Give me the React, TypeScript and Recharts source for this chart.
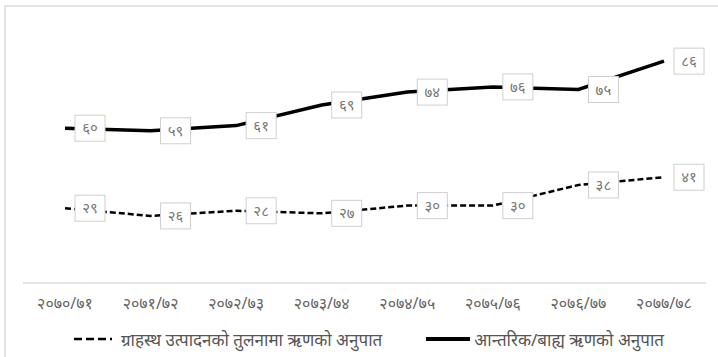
import { LineChart, Line, XAxis, YAxis, Legend, LabelList } from "recharts";

const YEARS = ["२०७०/७१", "२०७१/७२", "२०७२/७३", "२०७३/७४", "२०७४/७५", "२०७५/७६", "२०७६/७७", "२०७७/७८"];
const DEBT_TO_GDP = [29, 26, 28, 27, 30, 30, 38, 41];
const INTERNAL_EXTERNAL = [60, 59, 61, 69, 74, 76, 75, 86];

const GDP_NAME = "ग्राहस्थ उत्पादनको तुलनामा ऋणको अनुपात";
const RATIO_NAME = "आन्तरिक/बाह्य ऋणको अनुपात";

const DATA = YEARS.map((year, i) => ({
  year,
  gdp: DEBT_TO_GDP[i],
  ratio: INTERNAL_EXTERNAL[i],
}));

const FONT = "'Noto Sans', 'Noto Sans Devanagari', Lato, sans-serif";
const NEP_DIGITS = "०१२३४५६७८९";
const toNepali = (n: number | string) => String(n).replace(/[0-9]/g, (d) => NEP_DIGITS[Number(d)]);

// boxed value label sitting just right of each point
const BoxLabel = (props: any) => {
  const { x, y, value } = props;
  const left = x + 10;
  return (
    <g>
      <rect x={left} y={y - 13} width={30} height={26} fill="#fff" stroke="#cfcfcf" strokeWidth={1} />
      <text
        x={left + 15}
        y={y + 1}
        textAnchor="middle"
        dominantBaseline="middle"
        fontSize={15}
        fill="#777"
        fontFamily={FONT}
      >
        {toNepali(value)}
      </text>
    </g>
  );
};

const LegendContent = () => (
  <div
    style={{
      display: "flex",
      alignItems: "center",
      height: 30,
      marginTop: 9,
      fontFamily: FONT,
      fontSize: 17,
      color: "#555",
      paddingLeft: 50,
      whiteSpace: "nowrap",
    }}
  >
    <svg width={40} height={10} style={{ marginRight: 8 }}>
      <line x1={1} y1={5} x2={39} y2={5} stroke="#000" strokeWidth={2.5} strokeDasharray="8 4" />
    </svg>
    <span>{GDP_NAME}</span>
    <svg width={44} height={10} style={{ marginLeft: 44, marginRight: 4 }}>
      <line x1={0} y1={5} x2={44} y2={5} stroke="#000" strokeWidth={4} />
    </svg>
    <span>{RATIO_NAME}</span>
  </div>
);

export default function App() {
  return (
    <div style={{ position: "absolute", left: 0, top: 0, width: 718, height: 357, background: "#fff", overflow: "hidden" }}>
      <div
        style={{
          position: "absolute",
          left: 4,
          top: 5,
          width: 730,
          height: 370,
          borderLeft: "2px solid #e4e4e4",
          borderTop: "2px solid #e4e4e4",
        }}
      />
      <LineChart
        width={718}
        height={357}
        data={DATA}
        margin={{ top: 25, right: 12, left: 23, bottom: 12 }}
        style={{ position: "absolute", left: 0, top: 0 }}
      >
        <XAxis
          dataKey="year"
          padding={{ left: 42, right: 42 }}
          tickLine={false}
          axisLine={{ stroke: "#e6e6e6", strokeWidth: 2 }}
          tick={{ fontSize: 16, fill: "#666", fontFamily: FONT }}
          tickMargin={9}
          height={32}
          interval={0}
        />
        <YAxis hide domain={[0, 100]} />
        <Legend verticalAlign="bottom" height={30} content={<LegendContent />} />
        <Line
          dataKey="gdp"
          name={GDP_NAME}
          stroke="#000"
          strokeWidth={2.5}
          strokeDasharray="6 3"
          dot={false}
          isAnimationActive={false}
        >
          <LabelList dataKey="gdp" content={<BoxLabel />} />
        </Line>
        <Line
          dataKey="ratio"
          name={RATIO_NAME}
          stroke="#000"
          strokeWidth={3.5}
          dot={false}
          isAnimationActive={false}
        >
          <LabelList dataKey="ratio" content={<BoxLabel />} />
        </Line>
      </LineChart>
    </div>
  );
}
